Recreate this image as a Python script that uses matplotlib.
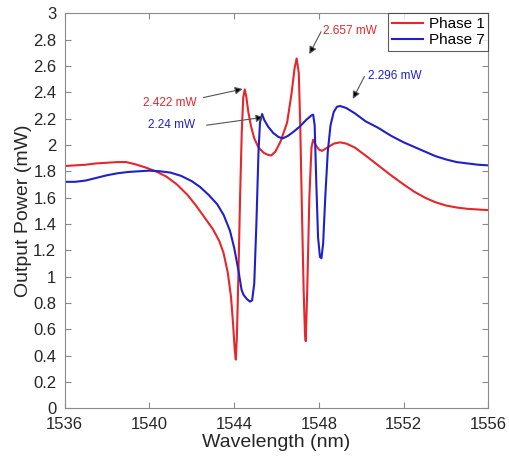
import matplotlib
matplotlib.use("Agg")
import matplotlib.pyplot as plt

plt.rcParams['font.family'] = ['Liberation Sans', 'DejaVu Sans']

# ---- data ----
red_wl = [1536.0, 1536.5, 1537.0, 1537.5, 1538.0, 1538.5, 1538.9, 1539.3, 1539.8, 1540.3,
          1540.8, 1541.3, 1541.8, 1542.2, 1542.6, 1543.0, 1543.3, 1543.5, 1543.7, 1543.85,
          1543.95, 1544.03, 1544.08, 1544.13, 1544.2, 1544.28, 1544.36, 1544.43, 1544.5, 1544.57,
          1544.67, 1544.8, 1544.95, 1545.15, 1545.4, 1545.6, 1545.75, 1545.95, 1546.2, 1546.5,
          1546.7, 1546.85, 1546.95, 1547.05, 1547.12, 1547.2, 1547.28, 1547.34, 1547.38, 1547.45,
          1547.55, 1547.65, 1547.73, 1547.85, 1548.0, 1548.15, 1548.4, 1548.7, 1549.0, 1549.3,
          1549.7, 1550.2, 1550.8, 1551.4, 1552.0, 1552.5, 1553.0, 1553.5, 1554.0, 1554.5,
          1555.0, 1555.5, 1556.0]
red_p = [1.84, 1.845, 1.85, 1.86, 1.865, 1.87, 1.87, 1.855, 1.83, 1.80,
         1.76, 1.70, 1.62, 1.54, 1.45, 1.36, 1.27, 1.18, 1.03, 0.85,
         0.64, 0.44, 0.37, 0.55, 1.00, 1.60, 2.10, 2.36, 2.422, 2.37,
         2.25, 2.14, 2.05, 1.98, 1.94, 1.925, 1.92, 1.95, 2.03, 2.17,
         2.38, 2.58, 2.657, 2.55, 2.15, 1.50, 0.90, 0.58, 0.51, 0.90,
         1.60, 1.98, 2.04, 2.00, 1.965, 1.955, 1.98, 2.01, 2.02, 2.01,
         1.98, 1.92, 1.845, 1.77, 1.70, 1.645, 1.60, 1.565, 1.54, 1.525,
         1.515, 1.51, 1.505]

blue_wl = [1536.0, 1536.5, 1537.0, 1537.5, 1538.0, 1538.5, 1539.0, 1539.5, 1540.0, 1540.5,
           1541.0, 1541.5, 1542.0, 1542.4, 1542.8, 1543.2, 1543.5, 1543.8, 1544.0, 1544.2,
           1544.35, 1544.45, 1544.6, 1544.75, 1544.85, 1544.95, 1545.05, 1545.15, 1545.22, 1545.32,
           1545.42, 1545.6, 1545.85, 1546.1, 1546.3, 1546.55, 1546.8, 1547.1, 1547.4, 1547.65,
           1547.73, 1547.8, 1547.88, 1547.96, 1548.05, 1548.12, 1548.2, 1548.3, 1548.42, 1548.55,
           1548.7, 1548.85, 1549.0, 1549.3, 1549.7, 1550.2, 1550.8, 1551.4, 1552.0, 1552.5,
           1553.0, 1553.5, 1554.0, 1554.5, 1555.0, 1555.5, 1556.0]
blue_p = [1.72, 1.72, 1.73, 1.75, 1.77, 1.785, 1.795, 1.80, 1.805, 1.80,
          1.79, 1.765, 1.725, 1.68, 1.62, 1.55, 1.47, 1.35, 1.22, 1.05,
          0.90, 0.86, 0.83, 0.81, 0.82, 0.95, 1.40, 1.95, 2.17, 2.235,
          2.19, 2.14, 2.09, 2.06, 2.05, 2.07, 2.10, 2.14, 2.19, 2.225,
          2.23, 2.15, 1.70, 1.30, 1.15, 1.14, 1.25, 1.60, 1.95, 2.15,
          2.25, 2.29, 2.296, 2.28, 2.24, 2.18, 2.13, 2.07, 2.02, 1.985,
          1.95, 1.915, 1.89, 1.87, 1.86, 1.85, 1.845]

series_labels = ['Phase 1', 'Phase 7']

x_ticks = [1536, 1540, 1544, 1548, 1552, 1556]
y_ticks = [0, 0.2, 0.4, 0.6, 0.8, 1.0, 1.2, 1.4, 1.6, 1.8, 2.0, 2.2, 2.4, 2.6, 2.8, 3.0]
y_ticklabels = ['0', '0.2', '0.4', '0.6', '0.8', '1', '1.2', '1.4', '1.6', '1.8',
                '2', '2.2', '2.4', '2.6', '2.8', '3']

# annotations: text, label centre, arrow tail, arrow tip
ann_texts = ['2.422 mW', '2.24 mW', '2.657 mW', '2.296 mW']
ann_label_xy = [(1540.95, 2.32), (1541.05, 2.15), (1549.45, 2.865), (1551.6, 2.52)]
ann_tail_xy = [(1542.55, 2.36), (1542.7, 2.15), (1548.1, 2.86), (1550.15, 2.52)]
ann_tip_xy = [(1544.4, 2.425), (1545.38, 2.21), (1547.55, 2.69), (1549.6, 2.35)]

RED = '#e5262b'
BLUE = '#2020c8'
ann_colors = [RED, BLUE, RED, BLUE]

fig = plt.figure(figsize=(5.09, 4.58), dpi=100)
ax = fig.add_axes([0.127, 0.1085, 0.8325, 0.8625])

ax.plot(red_wl, red_p, color=RED, lw=1.5, label=series_labels[0])
ax.plot(blue_wl, blue_p, color=BLUE, lw=1.5, label=series_labels[1])

ax.set_xlim(1536, 1556)
ax.set_ylim(0, 3)
ax.set_xticks(x_ticks)
ax.set_xticklabels([str(t) for t in x_ticks])
ax.set_yticks(y_ticks)
ax.set_yticklabels(y_ticklabels)

spine_c = '#8a8a8a'
for s in ax.spines.values():
    s.set_color(spine_c)
    s.set_linewidth(0.8)
ax.tick_params(direction='in', length=4, width=0.8, color=spine_c,
               top=True, right=True, labelsize=12, labelcolor='#262626')
ax.tick_params(axis='y', pad=6)
ax.tick_params(axis='x', pad=6)

ax.set_xlabel('Wavelength (nm)', fontsize=14, color='#262626', labelpad=2)
ax.set_ylabel('Output Power (mW)', fontsize=14, color='#262626', labelpad=1)

for txt, lxy, txy, tip, c in zip(ann_texts, ann_label_xy, ann_tail_xy, ann_tip_xy, ann_colors):
    ax.annotate('', xy=tip, xytext=txy,
                arrowprops=dict(arrowstyle='-|>', color='#555555', lw=0.8,
                                mutation_scale=11, shrinkA=0, shrinkB=0,
                                fc='black', ec='#555555'))
    ax.text(lxy[0], lxy[1], txt, color=c, fontsize=8.5, ha='center', va='center')

leg = ax.legend(loc='upper right', fontsize=11, frameon=True, fancybox=False,
                handlelength=2.0, handletextpad=0.4, borderpad=0.25,
                labelspacing=0.15, borderaxespad=0)
leg.get_frame().set_edgecolor('#333333')
leg.get_frame().set_linewidth(0.8)

fig.savefig('out.png', dpi=100)
